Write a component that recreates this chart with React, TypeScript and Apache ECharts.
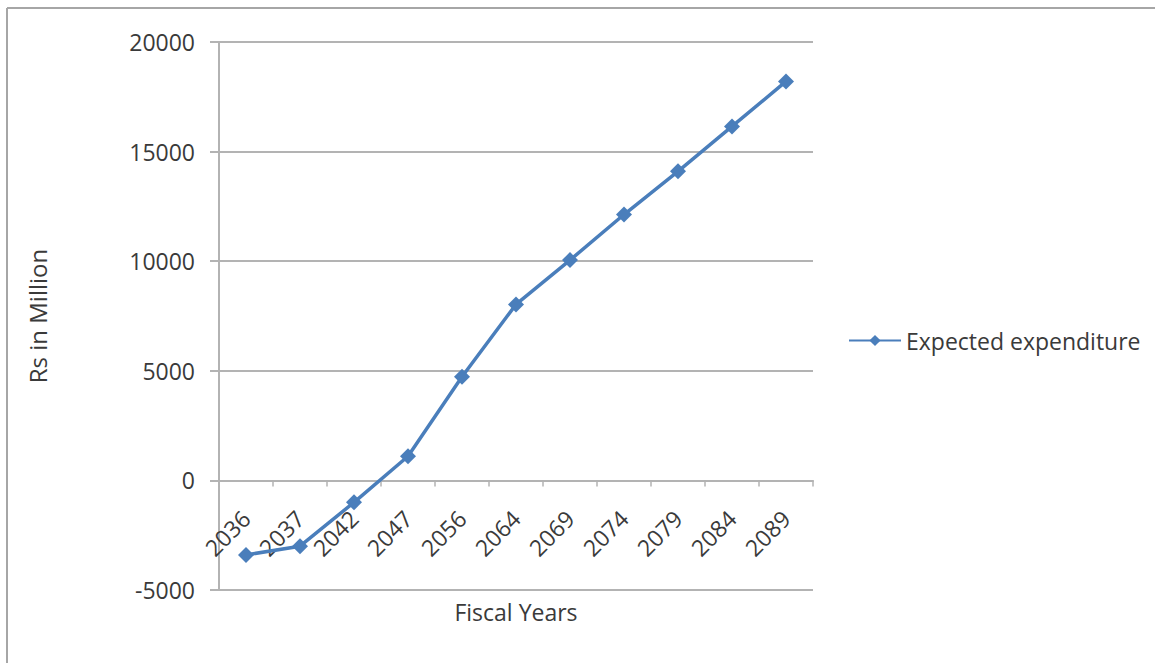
import React, { useEffect, useRef } from "react";
import * as echarts from "echarts";

const categories = ["2036", "2037", "2042", "2047", "2056", "2064", "2069", "2074", "2079", "2084", "2089"];
const expectedExpenditure = [-3400, -3000, -1000, 1100, 4730, 8030, 10050, 12130, 14100, 16150, 18200];
const seriesName = "Expected expenditure";
const yAxisTitle = "Rs in Million";
const xAxisTitle = "Fiscal Years";
const yMin = -5000;
const yMax = 20000;
const yInterval = 5000;

const FONT = "Open Sans";
const GRAY = "#b3b3b3";
const TEXT = "#3a3a3a";
const BLUE = "#4a7ebb";

const GRID_TOP = 42;
const GRID_BOTTOM_Y = 590;

export default function App() {
  const ref = useRef<HTMLDivElement>(null);
  useEffect(() => {
    if (!ref.current) return;
    const chart = echarts.init(ref.current, undefined, { renderer: "svg" });
    // shift the category axis up so it crosses the value axis at zero
    const zeroY = GRID_TOP + ((yMax - 0) / (yMax - yMin)) * (GRID_BOTTOM_Y - GRID_TOP);
    const xOffset = -(GRID_BOTTOM_Y - zeroY);
    chart.setOption({
      animation: false,
      backgroundColor: "#ffffff",
      textStyle: { fontFamily: FONT },
      grid: { left: 219, top: GRID_TOP, right: 342, bottom: 663 - GRID_BOTTOM_Y, containLabel: false, outerBoundsMode: "none" },
      graphic: [
        { type: "line", shape: { x1: 7, y1: 8, x2: 1155, y2: 8 }, style: { stroke: "#a6a6a6", lineWidth: 2 } },
        { type: "line", shape: { x1: 7, y1: 8, x2: 7, y2: 663 }, style: { stroke: "#a6a6a6", lineWidth: 2 } },
        {
          type: "text",
          x: 516,
          y: 612,
          style: { text: xAxisTitle, fontFamily: FONT, fontSize: 23, fill: TEXT, align: "center", verticalAlign: "middle" },
        },
      ],
      legend: {
        data: [seriesName],
        left: 843,
        top: 324,
        itemWidth: 52,
        itemHeight: 14,
        itemGap: 3,
        textStyle: { fontFamily: FONT, fontSize: 23, color: TEXT },
      },
      xAxis: {
        type: "category",
        data: categories,
        boundaryGap: true,
        offset: xOffset,
        axisLine: { onZero: false, lineStyle: { color: GRAY, width: 2 } },
        axisTick: { show: true, length: 6, inside: false, lineStyle: { color: GRAY, width: 1.5 } },
        axisLabel: { rotate: 45, margin: 34, fontFamily: FONT, fontSize: 23, color: TEXT, interval: 0 },
        splitLine: { show: false },
      },
      yAxis: {
        type: "value",
        min: yMin,
        max: yMax,
        interval: yInterval,
        name: yAxisTitle,
        nameLocation: "middle",
        nameGap: 170,
        nameRotate: 90,
        nameTextStyle: { fontFamily: FONT, fontSize: 24, color: TEXT },
        axisLine: { show: true, lineStyle: { color: GRAY, width: 2 } },
        axisTick: { show: true, length: 9, lineStyle: { color: GRAY, width: 2 } },
        axisLabel: { margin: 24, fontFamily: FONT, fontSize: 23, color: TEXT, formatter: (v: number) => String(v) },
        splitLine: { show: true, lineStyle: { color: GRAY, width: 2 } },
      },
      series: [
        {
          name: seriesName,
          type: "line",
          data: expectedExpenditure,
          symbol: "diamond",
          symbolSize: 16,
          showAllSymbol: true,
          lineStyle: { color: BLUE, width: 3.5 },
          itemStyle: { color: BLUE },
        },
      ],
    });
    return () => chart.dispose();
  }, []);
  return (
    <div
      ref={ref}
      style={{ position: "absolute", left: 0, top: 0, width: 1155, height: 663, background: "#fff" }}
    />
  );
}
